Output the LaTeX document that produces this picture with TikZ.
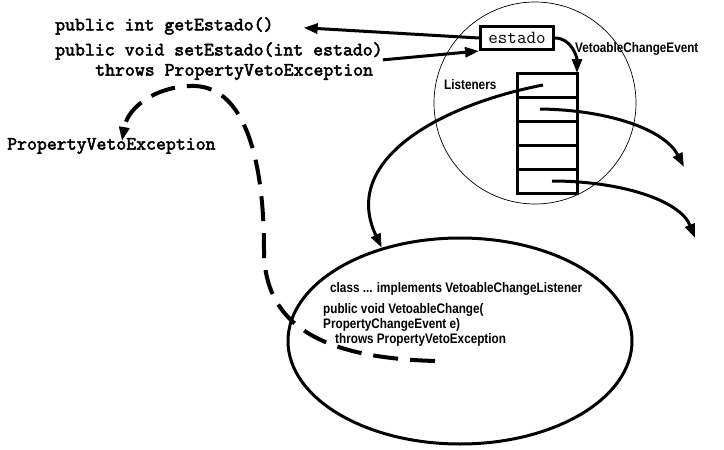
\documentclass[tikz,border=0pt]{standalone}
\usepackage{fontspec}
\usepackage{tikz}
\usetikzlibrary{arrows.meta, positioning, shapes.geometric, calc}
\newfontfamily\labelfont[FakeStretch=0.85]{Liberation Sans}
\newfontfamily\codefont{lmmono10-regular}[Extension=.otf, FakeBold=2.5]

\begin{document}
\begin{tikzpicture}[x=1pt, y=-1pt, >={Triangle[length=14pt, width=10pt]},
    code/.style={font=\codefont\fontsize{18.9}{20}\selectfont, anchor=west, inner sep=0pt},
    sans/.style={font=\labelfont\bfseries\fontsize{13.8}{15}\selectfont, inner sep=0pt},
    cell/.style={rectangle, draw, line width=3pt, minimum width=60pt, minimum height=24pt, outer sep=0pt, inner sep=0pt},
    conn/.style={line width=3pt}]

            \useasboundingbox (0,0) rectangle (724,450);

            % Methods of the bean
            \node[code] (getE) at (55,26) {public int getEstado()};
            \node[code] (setE) at (55,51) {public void setEstado(int estado)};
            \node[code] (throwsE) at (95,72) {throws PropertyVetoException};
            \node[code] (exc) at (7,146) {PropertyVetoException};

            % Bean with its property and listeners
            \node[circle, draw, line width=0.7pt, minimum size=202pt] (bean) at (535,103) {};
            \node[rectangle, draw, line width=3pt, minimum width=73pt, minimum height=23pt, font=\ttfamily\fontsize{18.5}{20}\selectfont] (estado) at (517,38) {estado};
            \node[sans, anchor=west] (listeners) at (444,85) {Listeners};
            \node[sans, anchor=west] (event) at (575,49) {VetoableChangeEvent};

            \node[cell] (cell1) at (547,85) {};
            \foreach \i [count=\j from 1] in {2,...,5}
                \node[cell, below=0pt of cell\j] (cell\i) {};

            % Listener object
            \node[ellipse, draw, line width=3pt, minimum width=344pt, minimum height=206pt] (listener) at (460,341) {};
            \node[sans, anchor=west] (impl) at (330,289) {class ... implements VetoableChangeListener};
            \node[sans, anchor=north west, align=left] (vetoM) at (323,303) {public void VetoableChange(\\PropertyChangeEvent e)\\\hspace*{12pt}throws PropertyVetoException};

            % Free ends
            \coordinate (out1) at (684,167);
            \coordinate (out2) at (695,238);
            \coordinate (dashStart) at (435,361);
            \coordinate (excTip) at (122,141);

            % Arrows
            \draw[->, conn, shorten >=30pt] (estado.west) -- (getE.east);
            \draw[->, conn] (setE.south east) -- (estado.south west);
            \draw[->, conn] (estado.east) to[out=0, in=90] (cell1.north east);
            \draw[->, conn] ([xshift=-4pt]cell1.center) .. controls (440,105) and (340,160) .. (listener.130);
            \draw[->, conn] ([xshift=-7pt]cell2.center) .. controls (610,110) and (665,130) .. (out1);
            \draw[->, conn] ([xshift=5pt]cell5.center) .. controls (620,181) and (680,200) .. (out2);
            \draw[->, conn, line width=4pt, dash pattern=on 25pt off 12pt] (dashStart) .. controls (330,358) and (264,330) .. (264,250) .. controls (264,160) and (245,88) .. (195,86) .. controls (160,85) and (128,105) .. (excTip);

        \end{tikzpicture}
\end{document}
